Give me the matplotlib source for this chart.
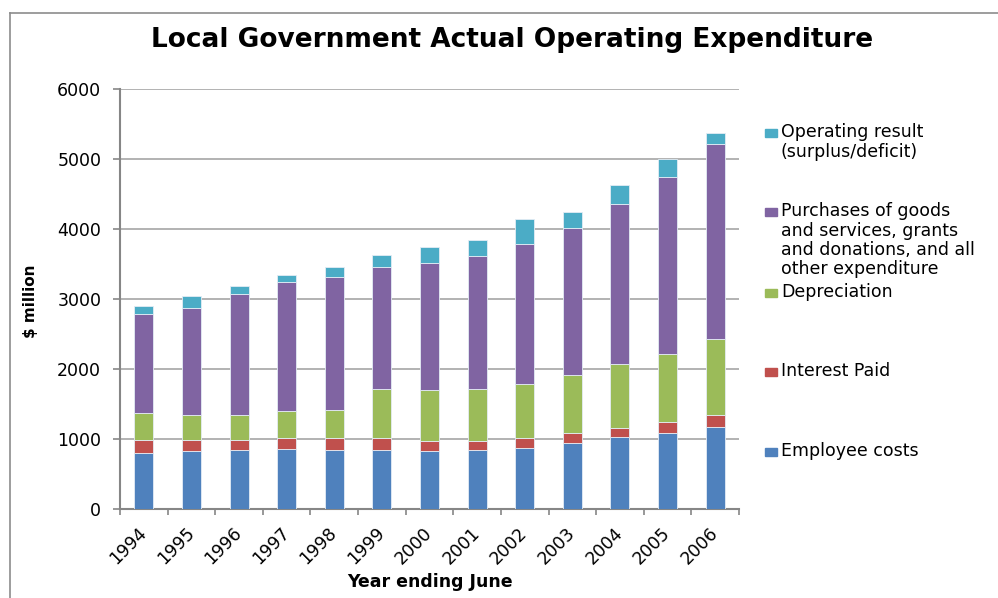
import numpy as np
import matplotlib
matplotlib.use("Agg")
import matplotlib.pyplot as plt
from matplotlib.patches import Rectangle
from matplotlib.lines import Line2D

# reference text is wide, DejaVu Sans gets closer than an Arial clone
plt.rcParams['font.family'] = ['DejaVu Sans']

# data ($ million)
years = ['1994', '1995', '1996', '1997', '1998', '1999', '2000',
         '2001', '2002', '2003', '2004', '2005', '2006']
employee = [805, 825, 840, 860, 840, 840, 830, 845, 880, 940, 1025, 1085, 1170]
interest = [190, 170, 155, 155, 175, 175, 150, 135, 135, 150, 135, 160, 180]
depreciation = [380, 355, 355, 380, 395, 695, 715, 730, 775, 830, 905, 965, 1075]
purchases = [1415, 1520, 1720, 1850, 1905, 1750, 1810, 1895, 1995, 2095, 2295, 2535, 2780]
op_result = [105, 170, 115, 100, 135, 165, 230, 230, 350, 230, 260, 245, 165]

series = [
    ('Employee costs', employee, '#4F81BD'),
    ('Interest Paid', interest, '#C0504D'),
    ('Depreciation', depreciation, '#9BBB59'),
    ('Purchases of goods\nand services, grants\nand donations, and all\nother expenditure', purchases, '#8064A2'),
    ('Operating result\n(surplus/deficit)', op_result, '#4BACC6'),
]

W, H = 998, 598
fig = plt.figure(figsize=(W / 100, H / 100), dpi=100)
ax = fig.add_axes([120 / W, 1 - 509.3 / H, (739 - 120) / W, (509.3 - 88.5) / H])

x = np.arange(len(years))
bottom = np.zeros(len(years))
for name, vals, col in series:
    ax.bar(x, vals, width=0.4, bottom=bottom, color=col,
           edgecolor='#E4ECF5', linewidth=0.6, zorder=3)
    bottom += np.array(vals)

ax.set_ylim(0, 6000)
ax.set_xlim(-0.5, len(years) - 0.5)
ax.set_yticks(np.arange(0, 6001, 1000))
ax.yaxis.grid(True, color='#A6A6A6', linewidth=1.2, zorder=0)
for s in ['top', 'right']:
    ax.spines[s].set_visible(False)
for s in ['left', 'bottom']:
    ax.spines[s].set_color('#868686')
    ax.spines[s].set_linewidth(1.5)

ax.tick_params(axis='y', length=5, width=1.2, color='#868686', pad=8.5, labelsize=12.5)
ax.set_xticks(x)
ax.set_xticklabels(years, rotation=45, ha='right', va='center',
                   rotation_mode='anchor', fontsize=12.5)
ax.tick_params(axis='x', which='major', length=0, pad=15)
ax.set_xticks(np.arange(-0.5, len(years), 1), minor=True)
ax.tick_params(axis='x', which='minor', length=4, width=1.2, color='#868686')

fig.text(512 / W, 1 - 40 / H, 'Local Government Actual Operating Expenditure',
         ha='center', va='center', fontsize=19, fontweight='bold')
fig.text(430 / W, 1 - 582 / H, 'Year ending June', ha='center', va='center',
         fontsize=12.5, fontweight='bold')
fig.text(31 / W, 1 - 301 / H, '$ million', ha='center', va='center',
         rotation=90, fontsize=11, fontweight='bold')

# legend drawn by hand so entries sit where Excel put them
leg_y = [451.7, 371.7, 292.7, 211.7, 132.7]
for (name, vals, col), yy in zip(series, leg_y):
    fig.add_artist(Rectangle((765 / W, 1 - (yy + 4) / H), 12 / W, 8 / H,
                             transform=fig.transFigure, color=col))
    fig.text(781 / W, 1 - (yy - 9.5) / H, name, ha='left', va='top',
             fontsize=12.5, linespacing=1.1)

# chart border (top and left edges visible)
fig.add_artist(Line2D([10 / W, 1], [1 - 13 / H, 1 - 13 / H], color='#8C8C8C',
                      linewidth=1.2, transform=fig.transFigure))
fig.add_artist(Line2D([10 / W, 10 / W], [0, 1 - 13 / H], color='#8C8C8C',
                      linewidth=1.2, transform=fig.transFigure))

fig.savefig('out.png', dpi=100, facecolor='white')
